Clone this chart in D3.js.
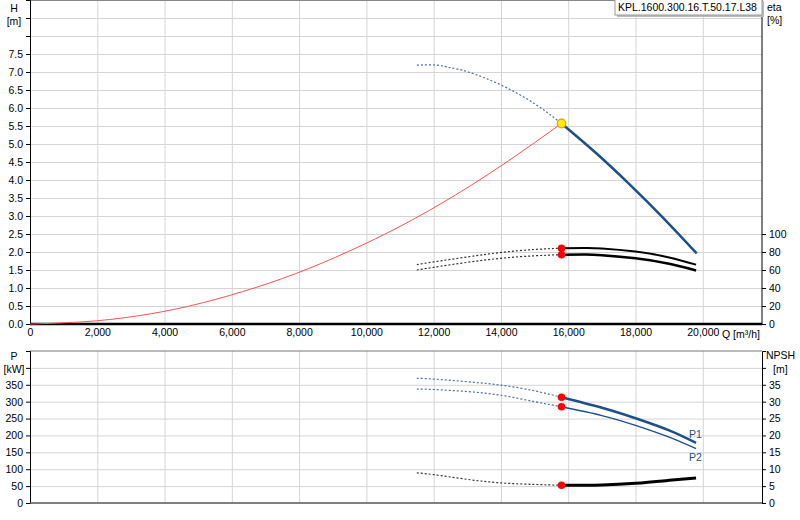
<!DOCTYPE html>
<html>
<head>
<meta charset="utf-8">
<script src="https://cdn.jsdelivr.net/npm/d3@7"></script>
<style>
  body { margin: 0; background: #fff; }
  svg { font-family: "Liberation Sans", Arial, sans-serif; font-size: 10.5px; }
  .grid line { stroke: #d4d4d4; stroke-width: 1; }
  .grid .domain { display: none; }
  .axis .domain { stroke: #000; }
  .axis line { stroke: #000; }
  .axis text { fill: #000; font-size: 10.5px; }
</style>
</head>
<body>
<svg id="chart" width="800" height="520"></svg>
<script>
// pump designation
var pumpName = 'KPL.1600.300.16.T.50.17.L38';
var qDuty = 15800;

// x axis ticks
var qTicks = [0, 2000, 4000, 6000, 8000, 10000, 12000, 14000, 16000, 18000, 20000];

// QH curve (dotted left of duty point, solid right of it)
var qHead = [11500, 12100, 12500, 13000, 14000, 15000, 15800, 16800, 17800, 18800, 19820];
var head  = [7.19, 7.19, 7.12, 7.01, 6.64, 6.12, 5.57, 4.77, 3.9, 2.97, 1.96];

// system curve
var qSys = [0, 1580, 3160, 4740, 6320, 7900, 9480, 11060, 12640, 14220, 15800];
var hSys = [0, 0.06, 0.22, 0.5, 0.9, 1.4, 2.02, 2.74, 3.58, 4.53, 5.57];

// efficiency curves
var qEta  = [11500, 12000, 13000, 14000, 15000, 15800, 16500, 17000, 18000, 19000, 19800];
var etaA  = [66, 69, 74.5, 79.5, 82.8, 84.2, 84.5, 84, 80.5, 74, 66];
var etaB  = [60, 63, 68.5, 73, 75.8, 77, 77.2, 76.5, 73, 67, 59.5];

// power + NPSH curves
var qLow = [11500, 12000, 13000, 14000, 15000, 15800, 17000, 18000, 19000, 19800];
var p1   = [369, 367, 359, 349, 332, 313, 282, 251, 215, 178];
var p2   = [337, 336, 330, 319, 300, 285, 259, 230, 195, 161];
var npsh = [8.9, 8.4, 7.0, 5.95, 5.5, 5.25, 5.35, 5.85, 6.7, 7.4];

var blue = '#1d4f88';
var svg = d3.select('#chart');

var x = d3.scaleLinear().domain([0, 21760]).range([30, 762]);
var yH = d3.scaleLinear().domain([0, 9]).range([324, 0]);
var yEta = d3.scaleLinear().domain([0, 360]).range([324, 0]);
var yP = d3.scaleLinear().domain([0, 450]).range([503, 351]);
var yN = d3.scaleLinear().domain([0, 45]).range([503, 351]);

var hTicks = d3.range(0, 9, 0.5);
var pTicks = d3.range(0, 450, 50);

// grids
svg.append('g').attr('class', 'grid')
    .attr('transform', 'translate(30,0)')
    .call(d3.axisLeft(yH).tickValues(hTicks.slice(1)).tickSize(-732).tickFormat(''));
svg.append('g').attr('class', 'grid')
    .attr('transform', 'translate(0,324)')
    .call(d3.axisBottom(x).tickValues(qTicks.slice(1)).tickSize(-324).tickFormat(''));
svg.append('g').attr('class', 'grid')
    .attr('transform', 'translate(30,0)')
    .call(d3.axisLeft(yP).tickValues(pTicks.slice(1)).tickSize(-732).tickFormat(''));
svg.append('g').attr('class', 'grid')
    .attr('transform', 'translate(0,503)')
    .call(d3.axisBottom(x).tickValues(qTicks.slice(1)).tickSize(-152).tickFormat(''));

// panel borders
svg.append('line').attr('x1', 30).attr('x2', 762).attr('y1', 0.5).attr('y2', 0.5)
    .attr('stroke', '#888');
svg.append('line').attr('x1', 30).attr('x2', 762).attr('y1', 351).attr('y2', 351)
    .attr('stroke', '#777');

// left / right axes
var fmtH = function(d) { return d <= 7.5 ? d3.format('.1f')(d) : ''; };
svg.append('g').attr('class', 'axis')
    .attr('transform', 'translate(30,0)')
    .call(d3.axisLeft(yH).tickValues(hTicks.concat([9])).tickSize(4).tickPadding(3).tickFormat(fmtH))
    .call(function(g) { g.selectAll('.tick').filter(function(d) { return d === 9; }).remove(); });

svg.append('g').attr('class', 'axis')
    .attr('transform', 'translate(762,0)')
    .call(d3.axisRight(yEta).tickValues(d3.range(0, 101, 20)).tickSize(4).tickPadding(3))
    .call(function(g) { g.select('.domain').attr('d', 'M0,0V324'); });

svg.append('g').attr('class', 'axis')
    .attr('transform', 'translate(30,0)')
    .call(d3.axisLeft(yP).tickValues(pTicks).tickSize(4).tickPadding(3)
        .tickFormat(function(d) { return d <= 350 ? d : ''; }));

svg.append('g').attr('class', 'axis')
    .attr('transform', 'translate(762,0)')
    .call(d3.axisRight(yN).tickValues(d3.range(0, 45, 5)).tickSize(4).tickPadding(3)
        .tickFormat(function(d) { return d <= 35 ? d : ''; }));

// x axis of top panel
var xAxis = svg.append('g').attr('class', 'axis')
    .attr('transform', 'translate(0,324)')
    .call(d3.axisBottom(x).tickValues(qTicks).tickSize(0).tickPadding(5)
        .tickFormat(d3.format(',')));
xAxis.select('.domain').attr('stroke', '#808080').attr('stroke-width', 2.5).attr('d', 'M30,0H762');

svg.append('line').attr('x1', 30).attr('x2', 762).attr('y1', 503).attr('y2', 503)
    .attr('stroke', '#555').attr('stroke-width', 1.5);

svg.append('text').attr('x', 722).attr('y', 338).text('Q [m³/h]');

// axis titles
var titles = [
  ['H', 14, 12], ['[m]', 14, 25],
  ['P', 14, 360], ['[kW]', 14, 373]
];
titles.forEach(function(t) {
  svg.append('text').attr('x', t[1]).attr('y', t[2]).attr('text-anchor', 'middle').text(t[0]);
});
svg.append('text').attr('x', 767).attr('y', 11).text('eta');
svg.append('text').attr('x', 767).attr('y', 24).text('[%]');
svg.append('text').attr('x', 766).attr('y', 359).text('NPSH');
svg.append('text').attr('x', 773).attr('y', 373).text('[m]');

// curve helper
function zip(qs, vs) { return qs.map(function(q, i) { return [q, vs[i]]; }); }
function drawSplit(pts, yScale, color, width) {
  var line = d3.line().x(function(d) { return x(d[0]); }).y(function(d) { return yScale(d[1]); })
      .curve(d3.curveNatural);
  var before = pts.filter(function(d) { return d[0] <= qDuty; });
  var after = pts.filter(function(d) { return d[0] >= qDuty; });
  svg.append('path').attr('d', line(before)).attr('fill', 'none')
      .attr('stroke', color).attr('stroke-width', 1.2).attr('stroke-dasharray', '2,2').attr('opacity', 0.8);
  svg.append('path').attr('d', line(after)).attr('fill', 'none')
      .attr('stroke', color).attr('stroke-width', width);
}
function valueAt(qs, vs) { return vs[qs.indexOf(qDuty)]; }

// system curve
svg.append('path')
    .attr('d', d3.line().x(function(d) { return x(d[0]); }).y(function(d) { return yH(d[1]); })
        .curve(d3.curveNatural)(zip(qSys, hSys)))
    .attr('fill', 'none').attr('stroke', '#ff5050').attr('stroke-width', 1);

drawSplit(zip(qHead, head), yH, blue, 2.5);
drawSplit(zip(qEta, etaA), yEta, '#000', 2);
drawSplit(zip(qEta, etaB), yEta, '#000', 2.5);
drawSplit(zip(qLow, p1), yP, blue, 2.5);
drawSplit(zip(qLow, p2), yP, blue, 1.3);
drawSplit(zip(qLow, npsh), yN, '#000', 3);

// duty point markers
var dots = [
  [yEta, valueAt(qEta, etaA)], [yEta, valueAt(qEta, etaB)],
  [yP, valueAt(qLow, p1)], [yP, valueAt(qLow, p2)], [yN, valueAt(qLow, npsh)]
];
dots.forEach(function(d) {
  svg.append('circle').attr('cx', x(qDuty)).attr('cy', d[0](d[1])).attr('r', 3.8).attr('fill', '#ff0000');
});
svg.append('circle').attr('cx', x(qDuty)).attr('cy', yH(valueAt(qHead, head))).attr('r', 4.3)
    .attr('fill', '#ffee00').attr('stroke', '#ff8c1a').attr('stroke-width', 1.2);

// curve labels
svg.append('text').attr('x', x(19800) - 7).attr('y', yP(p1[p1.length - 1]) - 5).attr('fill', blue).text('P1');
svg.append('text').attr('x', x(19800) - 7).attr('y', yP(p2[p2.length - 1]) + 12).attr('fill', blue).text('P2');

// pump name box
var box = svg.append('g').attr('transform', 'translate(615,-1)');
box.append('rect').attr('x', 2).attr('y', 2).attr('width', 147).attr('height', 16).attr('fill', '#bbb');
box.append('rect').attr('width', 147).attr('height', 16).attr('fill', '#fff').attr('stroke', '#999');
box.append('text').attr('x', 3).attr('y', 12).text(pumpName);
</script>
</body>
</html>
